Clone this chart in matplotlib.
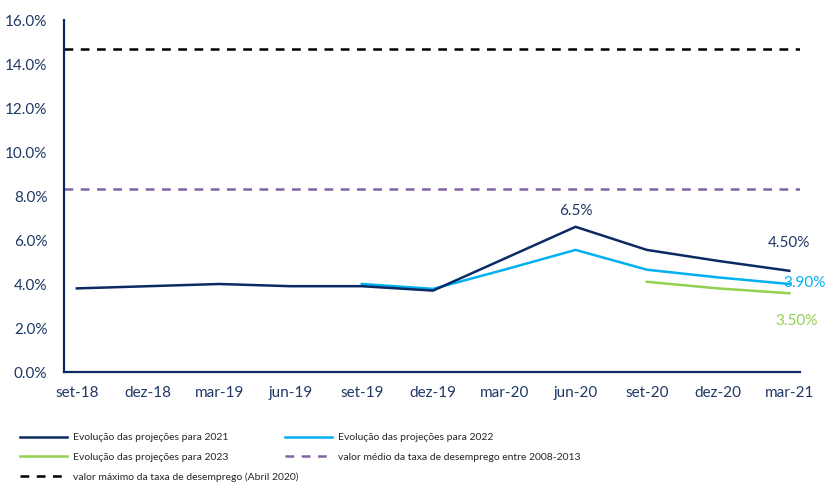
import matplotlib
matplotlib.use("Agg")
import matplotlib.pyplot as plt

plt.rcParams['font.family'] = ['Lato', 'DejaVu Sans']

# data (unemployment %, quarterly)
quarters = ['set-18', 'dez-18', 'mar-19', 'jun-19', 'set-19', 'dez-19',
            'mar-20', 'jun-20', 'set-20', 'dez-20', 'mar-21']
proj_2021 = [3.8, 3.9, 4.0, 3.9, 3.9, 3.7, 5.15, 6.6, 5.55, 5.05, 4.6]
proj_2022 = [None, None, None, None, 4.0, 3.78, 4.65, 5.55, 4.65, 4.3, 4.0]
proj_2023 = [None, None, None, None, None, None, None, None, 4.1, 3.8, 3.58]
media_2008_2013 = 8.3
max_abril_2020 = 14.7

NAVY = '#0B2A62'
CYAN = '#00B0F0'
GREEN = '#92D050'
PURPLE = '#8064A2'
TXT = '#1F3864'

def xs_ys(vals):
    pts = [(i, v) for i, v in enumerate(vals) if v is not None]
    return [p[0] for p in pts], [p[1] for p in pts]

fig = plt.figure(figsize=(8.25, 4.83), dpi=100)
ax = fig.add_axes([64/825, 1 - 372/483, (800 - 64)/825, (372 - 20)/483])

x, y = xs_ys(proj_2021)
l21, = ax.plot(x, y, color=NAVY, lw=1.8, label='Evolução das projeções para 2021', zorder=3)
x, y = xs_ys(proj_2022)
l22, = ax.plot(x, y, color=CYAN, lw=1.8, label='Evolução das projeções para 2022', zorder=2)
x, y = xs_ys(proj_2023)
l23, = ax.plot(x, y, color=GREEN, lw=1.8, label='Evolução das projeções para 2023', zorder=2)

lmed = ax.axhline(media_2008_2013, color=PURPLE, lw=1.8, ls=(0, (3.5, 3)),
                  label='valor médio da taxa de desemprego entre 2008-2013')
lmax = ax.axhline(max_abril_2020, color='black', lw=1.8, ls=(0, (3.5, 3)),
                  label='valor máximo da taxa de desemprego (Abril 2020)')

# value labels
ax.text(7, proj_2021[7] + 0.4, '6.5%', color=TXT, fontsize=11, ha='center', va='bottom')
ax.text(10, proj_2021[10] + 0.95, '4.50%', color=TXT, fontsize=11, ha='center', va='bottom')
ax.text(10.22, proj_2022[10] + 0.05, '3.90%', color=CYAN, fontsize=11, ha='center', va='center')
ax.text(10.1, proj_2023[10] - 1.26, '3.50%', color=GREEN, fontsize=11, ha='center', va='center')

ax.set_ylim(0, 16)
ax.set_xlim(-0.18, 10.15)
ax.set_yticks(range(0, 17, 2))
ax.set_yticklabels([f'{v:.1f}%' for v in range(0, 17, 2)])
ax.set_xticks(range(len(quarters)))
ax.set_xticklabels(quarters)
ax.tick_params(axis='both', length=0, labelsize=11, labelcolor=TXT)
ax.tick_params(axis='y', pad=12)
ax.tick_params(axis='x', pad=10)

for side in ['top', 'right']:
    ax.spines[side].set_visible(False)
for side in ['left', 'bottom']:
    ax.spines[side].set_color(NAVY)
    ax.spines[side].set_linewidth(1.6)

leg_kw = dict(frameon=False, fontsize=7.5, handlelength=4.5, handletextpad=0.6,
              labelspacing=1.0, borderaxespad=0, borderpad=0)
leg1 = fig.legend(handles=[l21, l23, lmax], loc='upper left',
                  bbox_to_anchor=(20/825, 1 - 433/483), **leg_kw)
leg2 = fig.legend(handles=[l22, lmed], loc='upper left',
                  bbox_to_anchor=(285/825, 1 - 433/483), **leg_kw)
for lg in (leg1, leg2):
    for t in lg.get_texts():
        t.set_color('#262626')

fig.savefig('out.png', dpi=100)
